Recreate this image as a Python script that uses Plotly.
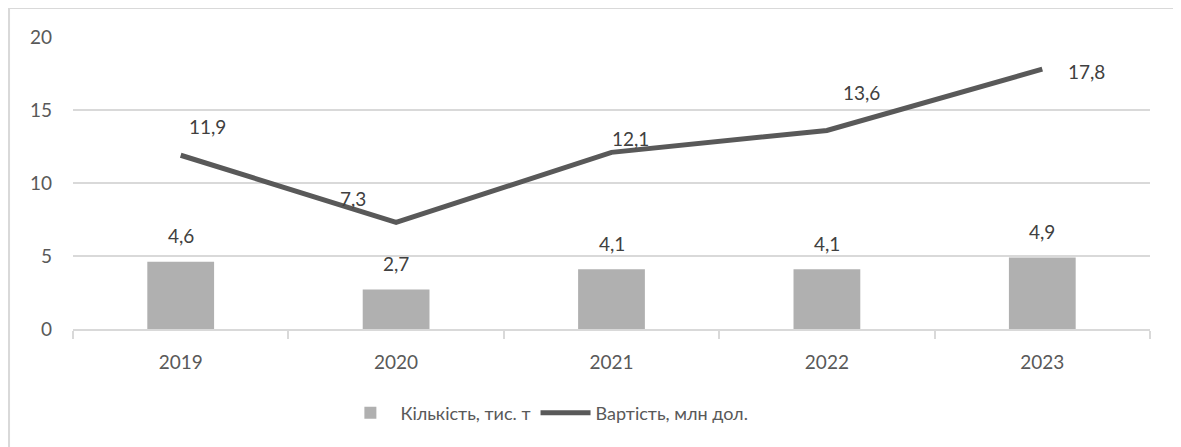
import plotly.graph_objects as go

years = ["2019", "2020", "2021", "2022", "2023"]
quantity = [4.6, 2.7, 4.1, 4.1, 4.9]
value = [11.9, 7.3, 12.1, 13.6, 17.8]
quantity_labels = ["4,6", "2,7", "4,1", "4,1", "4,9"]
value_labels = ["11,9", "7,3", "12,1", "13,6", "17,8"]
y_ticks = [0, 5, 10, 15, 20]

# label offsets (px) for the line data labels
value_label_shift = [(27, 29), (-43, 24), (19, 14), (35, 38), (44, -2)]

FONT = "Lato"
TXT = "#595959"
LBL = "#404040"

fig = go.Figure()
fig.add_trace(go.Bar(
    x=years, y=quantity, name="Кількість, тис. т",
    marker=dict(color="#b0b0b0", line=dict(width=0)),
    width=0.31,
))
fig.add_trace(go.Scatter(
    x=years, y=value, name="Вартість, млн дол.", mode="lines",
    line=dict(color="#595959", width=5),
))

annotations = []
for i, (q, t) in enumerate(zip(quantity, quantity_labels)):
    annotations.append(dict(x=i, y=q, xref="x", yref="y", text=t, showarrow=False,
                            yshift=26, font=dict(family=FONT, size=19, color=LBL)))
for i, (v, t, (dx, dy)) in enumerate(zip(value, value_labels, value_label_shift)):
    annotations.append(dict(x=i, y=v, xref="x", yref="y", text=t, showarrow=False,
                            xshift=dx, yshift=dy, font=dict(family=FONT, size=19, color=LBL)))

fig.update_layout(
    width=1181, height=447,
    margin=dict(l=65, r=39, t=29, b=126),
    paper_bgcolor="white", plot_bgcolor="white",
    font=dict(family=FONT, size=18, color=TXT),
    annotations=annotations,
    showlegend=True,
    legend=dict(orientation="h", x=0.44, xanchor="center", y=-0.288, yanchor="middle",
                font=dict(family=FONT, size=18, color=TXT), itemwidth=50,
                traceorder="normal"),
    shapes=[dict(type="rect", xref="paper", yref="paper", x0=-0.0594, x1=1.026,
                 y0=-0.5, y1=1.099, line=dict(color="#d9d9d9", width=2), layer="below")],
)
fig.update_xaxes(
    type="category", categoryorder="array", categoryarray=years, range=[-0.5, 4.5],
    showgrid=False, showline=True, linecolor="#d9d9d9", linewidth=1.5,
    ticks="outside", tickson="boundaries", ticklen=8, tickcolor="#d9d9d9", tickwidth=1.5,
    tickfont=dict(family=FONT, size=19, color=TXT), ticklabelstandoff=15, tickangle=0,
)
fig.update_yaxes(
    range=[0, 20], tickvals=y_ticks, showgrid=True, gridcolor="#d9d9d9", gridwidth=1.5,
    zeroline=False, showline=False, ticks="",
    tickfont=dict(family=FONT, size=19, color=TXT), ticklabelstandoff=20,
)

fig.write_html("out.html")
